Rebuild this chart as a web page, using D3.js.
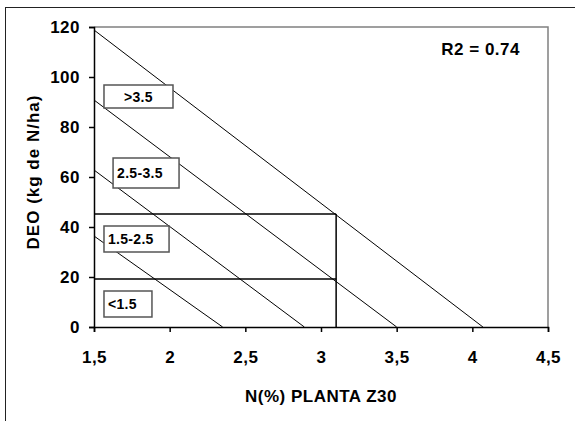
<!DOCTYPE html>
<html>
<head>
<meta charset="utf-8">
<script src="https://cdn.jsdelivr.net/npm/d3@7"></script>
<style>
  body { margin: 0; background: #fff; }
  svg { display: block; font-family: 'Liberation Sans', Arial, sans-serif; }
</style>
</head>
<body>
<svg id="canvas"></svg>
<script>
// ticks
const xTicks = [1.5, 2, 2.5, 3, 3.5, 4, 4.5];
const yTicks = [0, 20, 40, 60, 80, 100, 120];

// diagonal lines: each goes from (1.5, startY) down to (endX, 0)
const lineStartY = [118.8, 90.8, 62.8, 36.4];
const lineEndX = [4.07, 3.5, 2.89, 2.35];

// reading guides
const guideY = [45.2, 19.2];
const guideX = 3.1;

// class labels, boxes given in data units [x0, yTop, x1, yBottom]
const labelText = ['>3.5', '2.5-3.5', '1.5-2.5', '<1.5'];
const labelBox = [
    [1.566, 96.8, 2.022, 87.6],
    [1.626, 67.6, 2.062, 55.6],
    [1.566, 40.4, 1.996, 30.0],
    [1.566, 14.4, 1.883, 4.0]
];
const labelCentered = [true, false, false, false];

const r2Text = 'R2 = 0.74';
const xTitle = 'N(%) PLANTA Z30';
const yTitle = 'DEO (kg de N/ha)';

let width = 575;
let height = 421;

let canvas = d3.select('#canvas')
    .attr('width', width)
    .attr('height', height);

let xScale = d3.scaleLinear()
    .domain([1.5, 4.5])
    .range([94, 548]);

let yScale = d3.scaleLinear()
    .domain([0, 120])
    .range([327, 27]);

// outer chart frame (cut at right and bottom)
canvas.append('rect')
    .attr('x', 5.5)
    .attr('y', 7.5)
    .attr('width', 600)
    .attr('height', 450)
    .attr('fill', 'none')
    .attr('stroke', '#222')
    .attr('stroke-width', 1);

// plot area border (top, right)
canvas.append('path')
    .attr('d', 'M' + xScale(1.5) + ',' + yScale(120) + 'H' + xScale(4.5) + 'V' + yScale(0))
    .attr('fill', 'none')
    .attr('stroke', '#808080')
    .attr('stroke-width', 1.5);

// diagonal lines
canvas.selectAll('line.diag')
    .data(lineStartY)
    .enter()
    .append('line')
    .attr('class', 'diag')
    .attr('x1', xScale(1.5))
    .attr('y1', d => yScale(d))
    .attr('x2', (d, i) => xScale(lineEndX[i]))
    .attr('y2', yScale(0))
    .attr('stroke', '#000')
    .attr('stroke-width', 1);

// guides
canvas.selectAll('line.hguide')
    .data(guideY)
    .enter()
    .append('line')
    .attr('class', 'hguide')
    .attr('x1', xScale(1.5))
    .attr('x2', xScale(guideX))
    .attr('y1', d => yScale(d))
    .attr('y2', d => yScale(d))
    .attr('stroke', '#000')
    .attr('stroke-width', 1.5);

canvas.append('line')
    .attr('x1', xScale(guideX))
    .attr('x2', xScale(guideX))
    .attr('y1', yScale(0))
    .attr('y2', yScale(d3.max(guideY)))
    .attr('stroke', '#000')
    .attr('stroke-width', 1.5);

// label boxes
let labels = canvas.selectAll('g.label')
    .data(labelText)
    .enter()
    .append('g')
    .attr('class', 'label');

labels.append('rect')
    .attr('x', (d, i) => xScale(labelBox[i][0]))
    .attr('y', (d, i) => yScale(labelBox[i][1]))
    .attr('width', (d, i) => xScale(labelBox[i][2]) - xScale(labelBox[i][0]))
    .attr('height', (d, i) => yScale(labelBox[i][3]) - yScale(labelBox[i][1]))
    .attr('fill', '#fff')
    .attr('stroke', '#555')
    .attr('stroke-width', 1.5);

labels.append('text')
    .attr('x', (d, i) => labelCentered[i]
        ? (xScale(labelBox[i][0]) + xScale(labelBox[i][2])) / 2
        : xScale(labelBox[i][0]) + 4)
    .attr('y', (d, i) => (yScale(labelBox[i][1]) + yScale(labelBox[i][3])) / 2 + 5)
    .attr('text-anchor', (d, i) => labelCentered[i] ? 'middle' : 'start')
    .attr('font-size', 14)
    .attr('letter-spacing', 0.3)
    .attr('font-weight', 'bold')
    .text(d => d);

// axes
let xAxis = d3.axisBottom(xScale)
    .tickValues(xTicks)
    .tickSize(5)
    .tickPadding(19)
    .tickFormat(d => String(d).replace('.', ','));

let yAxis = d3.axisLeft(yScale)
    .tickValues(yTicks)
    .tickSize(5)
    .tickPadding(9);

let gx = canvas.append('g')
    .attr('transform', 'translate(0,' + yScale(0) + ')')
    .call(xAxis);

let gy = canvas.append('g')
    .attr('transform', 'translate(' + xScale(1.5) + ',0)')
    .call(yAxis);

[gx, gy].forEach(g => {
    g.select('.domain').attr('stroke', '#000').attr('stroke-width', 1.5);
    g.selectAll('.tick line').attr('stroke', '#000').attr('stroke-width', 1.5);
    g.selectAll('.tick text')
        .attr('font-family', "'Liberation Sans', Arial, sans-serif")
        .attr('font-size', 17)
        .attr('letter-spacing', 0.5)
        .attr('font-weight', 'bold')
        .attr('fill', '#000');
});
gy.selectAll('.tick text').attr('dy', '0.35em');

// titles
canvas.append('text')
    .attr('x', (xScale(1.5) + xScale(4.5)) / 2)
    .attr('y', 402)
    .attr('text-anchor', 'middle')
    .attr('font-size', 17)
    .attr('letter-spacing', 0.5)
    .attr('font-weight', 'bold')
    .text(xTitle);

canvas.append('text')
    .attr('transform', 'translate(39,172) rotate(-90)')
    .attr('text-anchor', 'middle')
    .attr('font-size', 17)
    .attr('letter-spacing', 1)
    .attr('font-weight', 'bold')
    .text(yTitle);

canvas.append('text')
    .attr('x', 520)
    .attr('y', 55)
    .attr('text-anchor', 'end')
    .attr('font-size', 17)
    .attr('letter-spacing', 0.5)
    .attr('font-weight', 'bold')
    .text(r2Text);
</script>
</body>
</html>
